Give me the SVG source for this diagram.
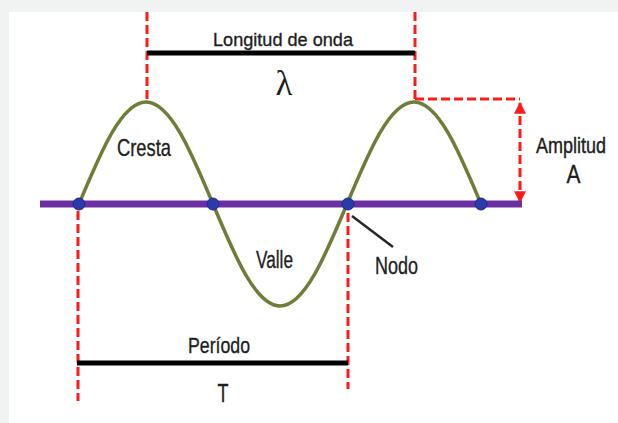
<svg xmlns="http://www.w3.org/2000/svg" width="618" height="423" viewBox="0 0 618 423">
  <style>
    .lbl { font-family: "Liberation Sans", Arial, sans-serif; fill: #1e1e1e; stroke: #1e1e1e; stroke-width: 0.35; text-anchor: middle; }
    .sym { font-family: "Liberation Serif", "Times New Roman", serif; fill: #1e1e1e; text-anchor: middle; }
    .dash { stroke: #ff1a1a; stroke-width: 3; stroke-dasharray: 9 4; fill: none; }
    .bar { stroke: #000; stroke-width: 5; fill: none; }
    .dot { fill: #2a3aa8; stroke: #1d2a8a; stroke-width: 1; }
  </style>
  <defs>
    <marker id="arr" viewBox="0 0 10 10" refX="9" refY="5" markerWidth="4" markerHeight="4" orient="auto-start-reverse" markerUnits="strokeWidth">
      <path d="M0,0 L10,5 L0,10 Z" fill="#ff1a1a"/>
    </marker>
  </defs>

  <rect x="0" y="0" width="618" height="423" fill="#f1f3f3"/>
  <rect x="9" y="12" width="609" height="411" fill="#ffffff"/>

  <g id="connectors">
    <line class="dash" x1="147" y1="12" x2="147" y2="101"/>
    <line class="dash" x1="415" y1="12" x2="415" y2="99"/>
    <line class="dash" x1="78" y1="211" x2="78" y2="401"/>
    <line class="dash" x1="348" y1="213" x2="348" y2="389"/>
    <polyline class="dash" points="415,99 520,99"/>
    <line class="dash" x1="520" y1="103" x2="520" y2="202" stroke-width="2.5" marker-start="url(#arr)" marker-end="url(#arr)"/>
    <line class="bar" x1="147" y1="53" x2="415" y2="53"/>
    <line class="bar" x1="77" y1="363" x2="348" y2="363"/>
    <line x1="352" y1="216" x2="393" y2="247" stroke="#262626" stroke-width="2.5"/>
  </g>

  <g id="axis">
    <line x1="40" y1="204" x2="522" y2="204" stroke="#6b2fa2" stroke-width="7"/>
  </g>

  <g id="wave">
    <path d="M79,204 C100.85,151.7 121.75,102 146,102 C170.25,102 191.15,151.7 213,204 C234.85,256.3 255.75,306 280,306 C304.25,306 325.15,256.3 347,204 C368.85,151.7 389.75,102 414,102 C438.25,102 459.15,151.7 481,204" fill="none" stroke="#6e7d38" stroke-width="3.5"/>
  </g>

  <g id="nodes">
    <circle class="dot" cx="79" cy="204" r="6"/>
    <circle class="dot" cx="213" cy="204" r="6"/>
    <circle class="dot" cx="348" cy="204" r="6"/>
    <circle class="dot" cx="481" cy="204" r="6"/>
  </g>

  <g id="label-longitud">
    <text class="lbl" x="283" y="46" font-size="19" textLength="140" lengthAdjust="spacingAndGlyphs">Longitud de onda</text>
    <text class="sym" x="284" y="95" font-size="36" textLength="17" lengthAdjust="spacingAndGlyphs">λ</text>
  </g>
  <g id="label-cresta">
    <text class="lbl" x="144" y="156" font-size="24" textLength="54" lengthAdjust="spacingAndGlyphs">Cresta</text>
  </g>
  <g id="label-valle">
    <text class="lbl" x="274.5" y="268" font-size="23" textLength="37" lengthAdjust="spacingAndGlyphs">Valle</text>
  </g>
  <g id="label-nodo">
    <text class="lbl" x="396.5" y="274" font-size="23" textLength="43" lengthAdjust="spacingAndGlyphs">Nodo</text>
  </g>
  <g id="label-amplitud">
    <text class="lbl" transform="translate(571,153) scale(1,1.2)" x="0" y="0" font-size="18">Amplitud</text>
    <text class="lbl" x="573.5" y="183" font-size="25" textLength="14" lengthAdjust="spacingAndGlyphs">A</text>
  </g>
  <g id="label-periodo">
    <text class="lbl" x="219" y="353" font-size="22" textLength="62" lengthAdjust="spacingAndGlyphs">Período</text>
    <text class="lbl" x="223" y="402" font-size="26" textLength="11" lengthAdjust="spacingAndGlyphs">T</text>
  </g>
</svg>
